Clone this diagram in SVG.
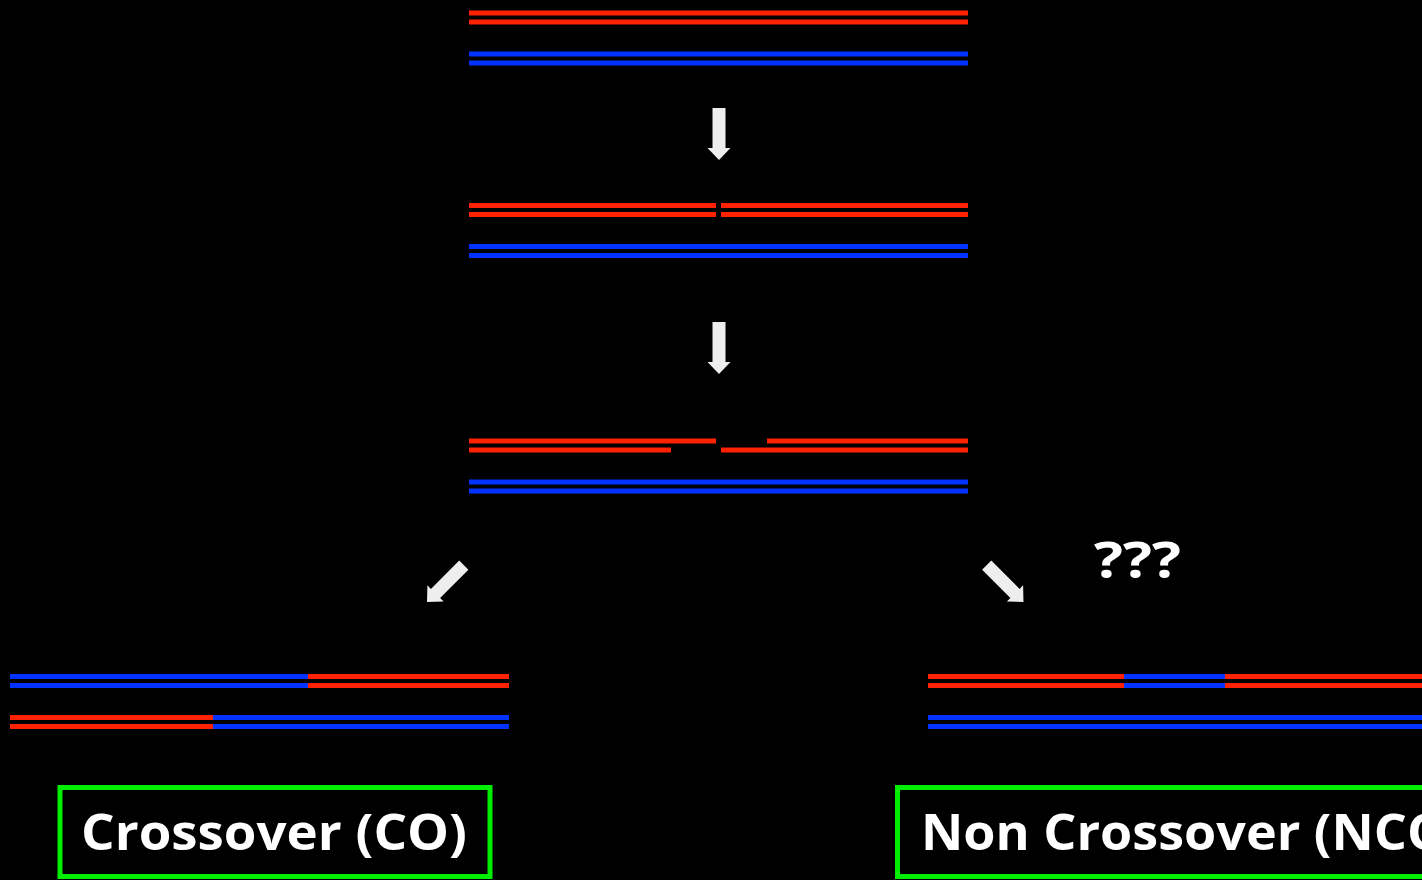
<svg xmlns="http://www.w3.org/2000/svg" width="1422" height="880" viewBox="0 0 1422 880">
<defs>
<style>
.r{stroke:#ff2200;stroke-width:5;}
.b{stroke:#0033ff;stroke-width:5;}
.arr{fill:#eeeeee;}
.box{fill:#000;stroke:#00ee00;stroke-width:5;}
.t{fill:#ffffff;font-family:"Comic Sans MS","Open Sans","DejaVu Sans",sans-serif;font-weight:bold;}
</style>
<polygon id="arrowShape" points="-6.5,0 6.5,0 6.5,40 11.5,40 0,52 -11.5,40 -6.5,40"/>
</defs>
<rect width="1422" height="880" fill="#000"/>
<g id="stage1">
<line class="r" x1="469" y1="13" x2="968" y2="13"/>
<line class="r" x1="469" y1="22" x2="968" y2="22"/>
<line class="b" x1="469" y1="54" x2="968" y2="54"/>
<line class="b" x1="469" y1="63" x2="968" y2="63"/>
</g>
<g id="stage2">
<line class="r" x1="469" y1="205.5" x2="716" y2="205.5"/>
<line class="r" x1="721" y1="205.5" x2="968" y2="205.5"/>
<line class="r" x1="469" y1="214.5" x2="716" y2="214.5"/>
<line class="r" x1="721" y1="214.5" x2="968" y2="214.5"/>
<line class="b" x1="469" y1="246.5" x2="968" y2="246.5"/>
<line class="b" x1="469" y1="255.5" x2="968" y2="255.5"/>
</g>
<g id="stage3">
<line class="r" x1="469" y1="441" x2="716" y2="441"/>
<line class="r" x1="767" y1="441" x2="968" y2="441"/>
<line class="r" x1="469" y1="450" x2="671" y2="450"/>
<line class="r" x1="721" y1="450" x2="968" y2="450"/>
<line class="b" x1="469" y1="482" x2="968" y2="482"/>
<line class="b" x1="469" y1="491" x2="968" y2="491"/>
</g>
<g id="crossover">
<line class="b" x1="10" y1="676.5" x2="308" y2="676.5"/>
<line class="r" x1="308" y1="676.5" x2="509" y2="676.5"/>
<line class="b" x1="10" y1="685.5" x2="308" y2="685.5"/>
<line class="r" x1="308" y1="685.5" x2="509" y2="685.5"/>
<line class="r" x1="10" y1="717.5" x2="213" y2="717.5"/>
<line class="b" x1="213" y1="717.5" x2="509" y2="717.5"/>
<line class="r" x1="10" y1="726.5" x2="213" y2="726.5"/>
<line class="b" x1="213" y1="726.5" x2="509" y2="726.5"/>
</g>
<g id="noncrossover">
<line class="r" x1="928" y1="676.5" x2="1124" y2="676.5"/>
<line class="b" x1="1124" y1="676.5" x2="1225" y2="676.5"/>
<line class="r" x1="1225" y1="676.5" x2="1422" y2="676.5"/>
<line class="r" x1="928" y1="685.5" x2="1124" y2="685.5"/>
<line class="b" x1="1124" y1="685.5" x2="1225" y2="685.5"/>
<line class="r" x1="1225" y1="685.5" x2="1422" y2="685.5"/>
<line class="b" x1="928" y1="717.5" x2="1422" y2="717.5"/>
<line class="b" x1="928" y1="726.5" x2="1422" y2="726.5"/>
</g>
<g id="connectors">
<use href="#arrowShape" class="arr" transform="translate(719,108)"/>
<use href="#arrowShape" class="arr" transform="translate(719,322)"/>
<use href="#arrowShape" class="arr" transform="translate(463.8,565.2) rotate(45)"/>
<use href="#arrowShape" class="arr" transform="translate(986.7,565.2) rotate(-45)"/>
</g>
<g id="question">
<text class="t" x="1094" y="578" font-size="50" textLength="87" lengthAdjust="spacingAndGlyphs">???</text>
</g>
<g id="label-co">
<rect class="box" x="60" y="787.5" width="430" height="89"/>
<text class="t" x="81" y="850" font-size="50" textLength="386" lengthAdjust="spacingAndGlyphs">Crossover (CO)</text>
</g>
<g id="label-nco">
<rect class="box" x="897.5" y="787.5" width="600" height="89"/>
<text class="t" x="921" y="850" font-size="50" textLength="545" lengthAdjust="spacingAndGlyphs">Non Crossover (NCO)</text>
</g>
</svg>
